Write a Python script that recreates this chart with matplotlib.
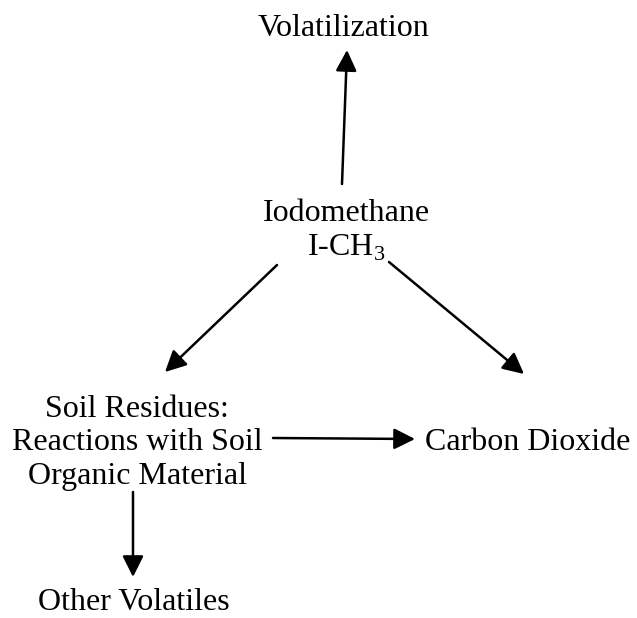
import matplotlib
matplotlib.use("Agg")
import matplotlib.pyplot as plt

plt.rcParams["mathtext.fontset"] = "custom"
plt.rcParams["mathtext.rm"] = "Liberation Serif"

# node labels and their centres (pixel coordinates of the 637x618 image)
labels = ["Volatilization", "Iodomethane\nI-CH$_{\\mathrm{3}}$",
          "Soil Residues:\nReactions with Soil\nOrganic Material",
          "Carbon Dioxide", "Other Volatiles"]
label_x = [343, 346, 137, 528, 134]
label_y = [28, 231, 443, 443, 603]

# arrows: (start, end)
arrow_start = [(342, 184), (277, 265), (389, 262), (273, 438), (133, 492)]
arrow_end = [(347, 50), (165, 372), (524, 374), (415, 439), (133, 577)]

fig = plt.figure(figsize=(6.37, 6.18), dpi=100)
ax = fig.add_axes([0, 0, 1, 1])
ax.set_xlim(0, 637)
ax.set_ylim(618, 0)
ax.axis("off")

for txt, x, y in zip(labels, label_x, label_y):
    ax.text(x, y, txt, ha="center", va="center", fontsize=23,
            family="Liberation Serif", linespacing=1.2, color="black")

for s, e in zip(arrow_start, arrow_end):
    ax.annotate("", xy=e, xytext=s,
                arrowprops=dict(arrowstyle="-|>", mutation_scale=32,
                                lw=1.8, color="black", shrinkA=0, shrinkB=0))

fig.savefig("out.png", dpi=100, facecolor="white")
